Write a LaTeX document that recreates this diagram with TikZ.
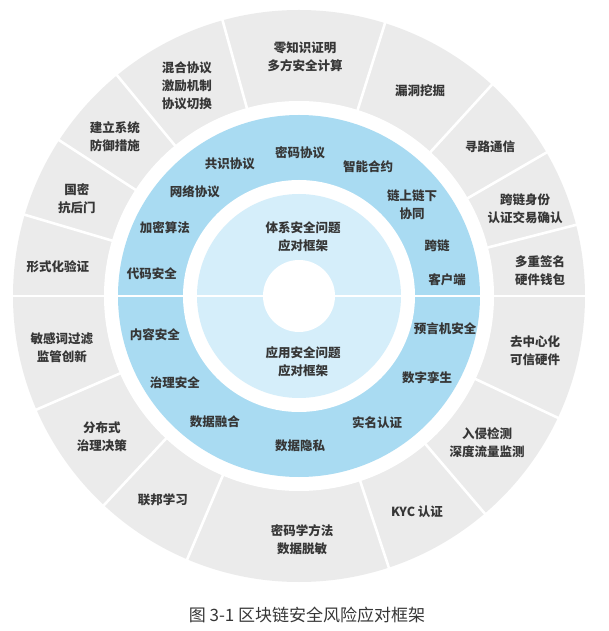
\documentclass[tikz,border=0pt]{standalone}
\usepackage{fontspec}
\setmainfont{Noto Sans CJK SC}
\newfontfamily\cjk{Noto Sans CJK SC}
\definecolor{ringgray}{HTML}{EBEBEB}
\definecolor{ringblue}{HTML}{A9DBF2}
\definecolor{ringlight}{HTML}{D5EEFA}
\definecolor{txt}{HTML}{363636}
\begin{document}
\begin{tikzpicture}[x=1pt,y=1pt,
  lbl/.style={align=center,inner sep=0pt,text=txt,font=\cjk\bfseries\fontsize{12.5}{18}\selectfont},
  sep/.style={white,line width=2.6pt}]
\useasboundingbox (-299,-335) rectangle (310,296);
% rings
\fill[ringgray] (0,0) circle (286);
\fill[white] (0,0) circle (195);
\fill[ringblue] (0,0) circle (181);
\fill[white] (0,0) circle (116);
\fill[ringlight] (0,0) circle (102);
\fill[white] (0,0) circle (36);
% separators
\draw[sep] (-290,0) -- (290,0);
\foreach \a in {14.4,30.1,47.6,72.5,105.5,129.5,147,163.5,-25.2,-49.5,-71.7,-113,-133,-156.6}
  \draw[sep] (\a:193) -- (\a:290);
% inner labels
\node[lbl] (inA) at (4,59) {体系安全问题\\应对框架};
\node[lbl] (inB) at (4,-66) {应用安全问题\\应对框架};
% blue ring, top
\node[lbl] (b1) at (-147,22) {代码安全};
\node[lbl] (b2) at (-134,68) {加密算法};
\node[lbl] (b3) at (-104,104) {网络协议};
\node[lbl] (b4) at (-69,132) {共识协议};
\node[lbl] (b5) at (1,143) {密码协议};
\node[lbl] (b6) at (69,129) {智能合约};
\node[lbl] (b7) at (113,91) {链上链下\\协同};
\node[lbl] (b8) at (138,50) {跨链};
\node[lbl] (b9) at (148,16) {客户端};
% blue ring, bottom
\node[lbl] (c1) at (-144,-39) {内容安全};
\node[lbl] (c2) at (-124,-87) {治理安全};
\node[lbl] (c3) at (-84,-126) {数据融合};
\node[lbl] (c4) at (1,-150) {数据隐私};
\node[lbl] (c5) at (78,-127) {实名认证};
\node[lbl] (c6) at (128,-82) {数字孪生};
\node[lbl] (c7) at (146,-33) {预言机安全};
% outer ring
\node[lbl] (o1) at (6,239) {零知识证明\\多方安全计算};
\node[lbl] (o2) at (-112,210) {混合协议\\激励机制\\协议切换};
\node[lbl] (o3) at (-184,159) {建立系统\\防御措施};
\node[lbl] (o4) at (-222,97) {国密\\抗后门};
\node[lbl] (o5) at (-241,29) {形式化验证};
\node[lbl] (o6) at (121,205) {漏洞挖掘};
\node[lbl] (o7) at (191,149) {寻路通信};
\node[lbl] (o8) at (226,87) {跨链身份\\认证交易确认};
\node[lbl] (o9) at (241,25) {多重签名\\硬件钱包};
\node[lbl] (o10) at (236,-55) {去中心化\\可信硬件};
\node[lbl] (o11) at (188,-147) {入侵检测\\深度流量监测};
\node[lbl] (o12) at (118,-216) {KYC 认证};
\node[lbl] (o13) at (3,-244) {密码学方法\\数据脱敏};
\node[lbl] (o14) at (-136,-204) {联邦学习};
\node[lbl] (o15) at (-197,-141) {分布式\\治理决策};
\node[lbl] (o16) at (-237,-52) {敏感词过滤\\监管创新};
% caption
\node[inner sep=0pt,text=txt,font=\cjk\fontsize{17}{20}\selectfont] (cap) at (8,-319) {图 3-1 区块链安全风险应对框架};
\end{tikzpicture}
\end{document}
